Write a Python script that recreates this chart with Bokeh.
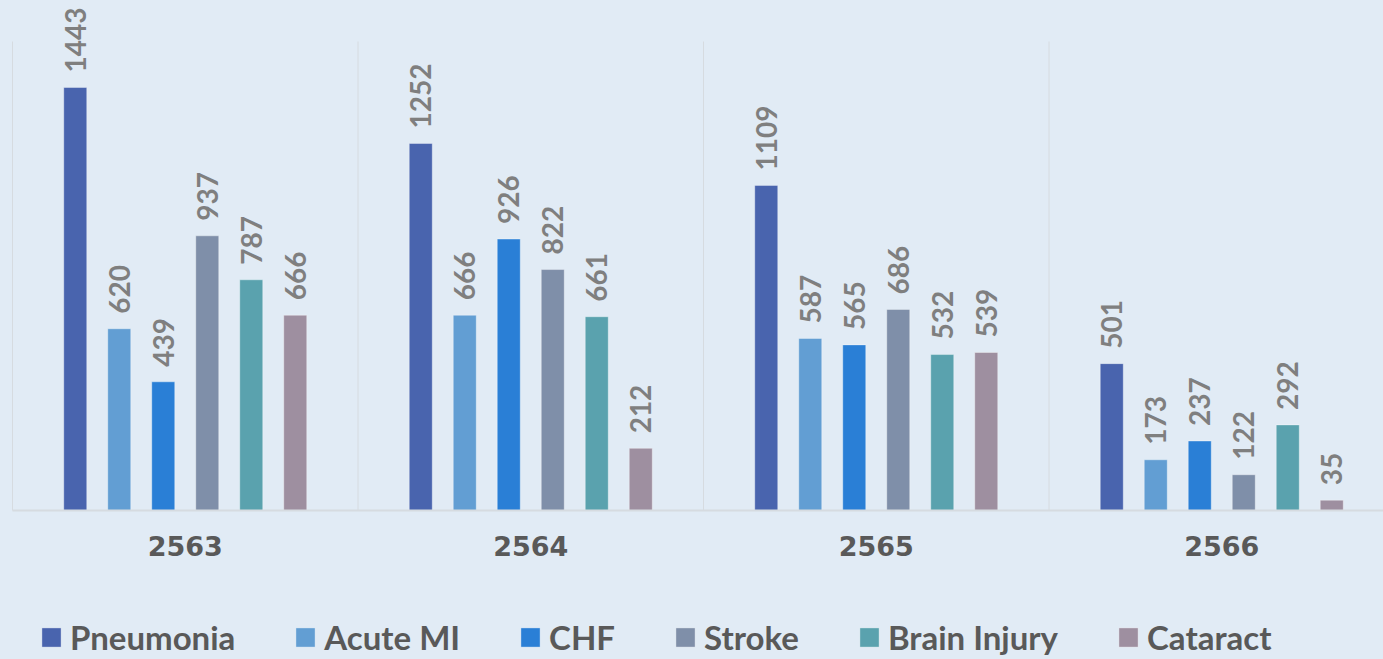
import math
from bokeh.plotting import figure
from bokeh.models import Range1d, FixedTicker, Legend, LegendItem, ColumnDataSource
from bokeh.core.properties import value
from bokeh.embed import file_html
from bokeh.resources import INLINE

years = ["2563", "2564", "2565", "2566"]
series = ["Pneumonia", "Acute MI", "CHF", "Stroke", "Brain Injury", "Cataract"]
pneumonia = [1443, 1252, 1109, 501]
acute_mi = [620, 666, 587, 173]
chf = [439, 926, 565, 237]
stroke = [937, 822, 686, 122]
brain_injury = [787, 661, 532, 292]
cataract = [666, 212, 539, 35]
values = [pneumonia, acute_mi, chf, stroke, brain_injury, cataract]
colors = ["#4964AE", "#629ED3", "#2A7FD6", "#7F8FA9", "#5AA2AE", "#9E8FA0"]
axis_max = 1600

BG = "#E1EBF5"
W, H = 1383, 659
gw = 345.5          # px per group
ppu = 469 / axis_max  # px per unit
p = figure(width=W, height=H, output_backend="svg", toolbar_location=None,
           x_range=Range1d(-12 / gw, (W - 12) / gw),
           y_range=Range1d(-(H - 510) / ppu, 510 / ppu),
           min_border=0,
           background_fill_color=BG, border_fill_color=BG, outline_line_color=None)

# group separators
n = len(years)
p.segment(x0=list(range(n + 1)), y0=[0] * (n + 1), x1=list(range(n + 1)),
          y1=[axis_max] * (n + 1), line_color="#D6DBE0", line_width=1)

step = 44 / gw
bw = 23 / gw
items = []
for k, (name, vals, col) in enumerate(zip(series, values, colors)):
    xs = [i + 0.5 + (k - 2.5) * step for i in range(n)]
    src = ColumnDataSource(dict(x=xs, top=vals, lab=[str(v) for v in vals]))
    r = p.vbar(x="x", top="top", width=bw, source=src, fill_color=col,
               line_color="white", line_alpha=0.35, line_width=1)
    p.text(x="x", y="top", text="lab", source=src, angle=math.pi / 2,
           text_align="left", text_baseline="middle", y_offset=-15,
           text_font=value("Lato"), text_font_style="bold", text_font_size="28px",
           text_color="#7F7F7F")
    items.append(LegendItem(label=name, renderers=[r]))

p.xgrid.visible = False
p.ygrid.visible = False
p.yaxis.visible = False
ax = p.xaxis[0]
ax.fixed_location = 0
ax.bounds = (0, n)
ax.ticker = FixedTicker(ticks=[i + 0.5 for i in range(n)])
ax.major_label_overrides = {i + 0.5: y for i, y in enumerate(years)}
ax.major_tick_line_color = None
ax.minor_tick_line_color = None
ax.axis_line_color = "#D6DBE0"
ax.axis_line_width = 2
ax.major_label_standoff = 19
ax.major_label_text_font = "DejaVu Sans"
ax.major_label_text_font_style = "bold"
ax.major_label_text_font_size = "27px"
ax.major_label_text_color = "#595959"

leg = Legend(items=items, orientation="horizontal", location=(39, 2),
             glyph_width=24, glyph_height=24, label_standoff=7, spacing=58,
             padding=0, margin=0, label_height=20,
             label_text_font="Lato", label_text_font_style="bold",
             label_text_font_size="33px", label_text_color="#595959",
             background_fill_alpha=0, border_line_color=None)
p.add_layout(leg, "center")

html = file_html(p, INLINE)
html = html.replace("<body>", '<body style="background-color:%s;">' % BG)
open("out.html", "w").write(html)
